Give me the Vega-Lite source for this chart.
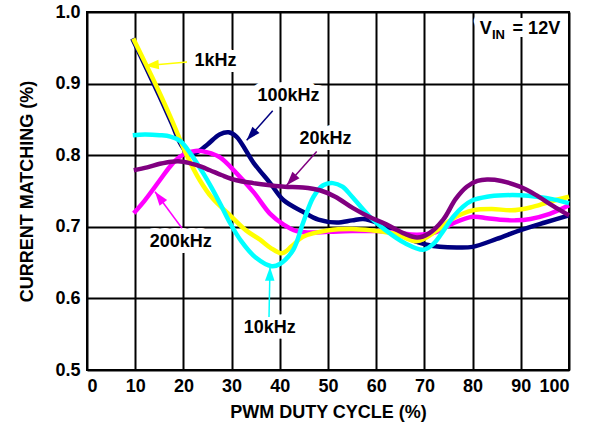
{
  "$schema": "https://vega.github.io/schema/vega-lite/v6.json",
  "width": 482,
  "height": 358,
  "autosize": {"type": "none"},
  "padding": {"left": 87, "top": 12, "right": 33, "bottom": 56},
  "background": "white",
  "config": {
    "font": "Liberation Sans",
    "view": {"stroke": "black", "strokeWidth": 2},
    "line": {"strokeWidth": 4.5, "interpolate": "catmull-rom", "strokeCap": "butt"},
    "axis": {
      "labelFont": "Liberation Sans",
      "labelFontWeight": "bold",
      "labelFontSize": 18,
      "labelColor": "black",
      "titleFont": "Liberation Sans",
      "titleFontWeight": "bold",
      "titleFontSize": 18,
      "titleColor": "black",
      "grid": true,
      "gridColor": "black",
      "gridWidth": 2,
      "gridOpacity": 1,
      "domain": false,
      "ticks": false
    }
  },
  "datasets": {
    "curves": [
      {"series": "100kHz", "x": 9.4, "y": 0.963},
      {"series": "100kHz", "x": 12, "y": 0.926},
      {"series": "100kHz", "x": 15, "y": 0.883},
      {"series": "100kHz", "x": 17.6, "y": 0.844},
      {"series": "100kHz", "x": 19.5, "y": 0.815},
      {"series": "100kHz", "x": 21.2, "y": 0.801},
      {"series": "100kHz", "x": 22.8, "y": 0.804},
      {"series": "100kHz", "x": 25, "y": 0.815},
      {"series": "100kHz", "x": 27.5, "y": 0.829},
      {"series": "100kHz", "x": 29.4, "y": 0.832},
      {"series": "100kHz", "x": 31, "y": 0.826},
      {"series": "100kHz", "x": 34.6, "y": 0.789},
      {"series": "100kHz", "x": 38, "y": 0.761},
      {"series": "100kHz", "x": 40.8, "y": 0.737},
      {"series": "100kHz", "x": 44.8, "y": 0.721},
      {"series": "100kHz", "x": 48, "y": 0.71},
      {"series": "100kHz", "x": 51.8, "y": 0.706},
      {"series": "100kHz", "x": 55, "y": 0.709},
      {"series": "100kHz", "x": 57.3, "y": 0.711},
      {"series": "100kHz", "x": 60, "y": 0.706},
      {"series": "100kHz", "x": 64.3, "y": 0.691},
      {"series": "100kHz", "x": 68, "y": 0.68},
      {"series": "100kHz", "x": 70.5, "y": 0.675},
      {"series": "100kHz", "x": 73.2, "y": 0.672},
      {"series": "100kHz", "x": 77, "y": 0.671},
      {"series": "100kHz", "x": 80, "y": 0.672},
      {"series": "100kHz", "x": 85, "y": 0.683},
      {"series": "100kHz", "x": 89.8, "y": 0.695},
      {"series": "100kHz", "x": 95, "y": 0.706},
      {"series": "100kHz", "x": 100, "y": 0.716},

      {"series": "200kHz", "x": 9.7, "y": 0.719},
      {"series": "200kHz", "x": 12, "y": 0.737},
      {"series": "200kHz", "x": 15.1, "y": 0.765},
      {"series": "200kHz", "x": 17.2, "y": 0.784},
      {"series": "200kHz", "x": 19.3, "y": 0.798},
      {"series": "200kHz", "x": 22.5, "y": 0.806},
      {"series": "200kHz", "x": 25, "y": 0.804},
      {"series": "200kHz", "x": 27.6, "y": 0.797},
      {"series": "200kHz", "x": 31, "y": 0.775},
      {"series": "200kHz", "x": 34.6, "y": 0.748},
      {"series": "200kHz", "x": 38, "y": 0.718},
      {"series": "200kHz", "x": 40.8, "y": 0.703},
      {"series": "200kHz", "x": 43.5, "y": 0.694},
      {"series": "200kHz", "x": 46, "y": 0.692},
      {"series": "200kHz", "x": 50, "y": 0.693},
      {"series": "200kHz", "x": 55, "y": 0.694},
      {"series": "200kHz", "x": 60.2, "y": 0.694},
      {"series": "200kHz", "x": 64, "y": 0.692},
      {"series": "200kHz", "x": 68.5, "y": 0.689},
      {"series": "200kHz", "x": 72.6, "y": 0.693},
      {"series": "200kHz", "x": 76, "y": 0.705},
      {"series": "200kHz", "x": 80, "y": 0.714},
      {"series": "200kHz", "x": 83, "y": 0.712},
      {"series": "200kHz", "x": 85.7, "y": 0.71},
      {"series": "200kHz", "x": 89, "y": 0.709},
      {"series": "200kHz", "x": 92, "y": 0.711},
      {"series": "200kHz", "x": 96, "y": 0.718},
      {"series": "200kHz", "x": 100, "y": 0.73},

      {"series": "1kHz", "x": 9.6, "y": 0.963},
      {"series": "1kHz", "x": 12, "y": 0.93},
      {"series": "1kHz", "x": 15, "y": 0.888},
      {"series": "1kHz", "x": 17.6, "y": 0.849},
      {"series": "1kHz", "x": 20.7, "y": 0.8},
      {"series": "1kHz", "x": 23.4, "y": 0.765},
      {"series": "1kHz", "x": 26, "y": 0.74},
      {"series": "1kHz", "x": 29.7, "y": 0.716},
      {"series": "1kHz", "x": 33, "y": 0.695},
      {"series": "1kHz", "x": 35.9, "y": 0.682},
      {"series": "1kHz", "x": 38, "y": 0.671},
      {"series": "1kHz", "x": 40.4, "y": 0.663},
      {"series": "1kHz", "x": 42.5, "y": 0.673},
      {"series": "1kHz", "x": 44.8, "y": 0.686},
      {"series": "1kHz", "x": 50, "y": 0.695},
      {"series": "1kHz", "x": 55, "y": 0.697},
      {"series": "1kHz", "x": 59, "y": 0.695},
      {"series": "1kHz", "x": 64, "y": 0.69},
      {"series": "1kHz", "x": 68.5, "y": 0.68},
      {"series": "1kHz", "x": 72.6, "y": 0.695},
      {"series": "1kHz", "x": 76, "y": 0.712},
      {"series": "1kHz", "x": 80, "y": 0.723},
      {"series": "1kHz", "x": 84, "y": 0.725},
      {"series": "1kHz", "x": 88, "y": 0.723},
      {"series": "1kHz", "x": 92, "y": 0.727},
      {"series": "1kHz", "x": 96, "y": 0.735},
      {"series": "1kHz", "x": 100, "y": 0.742},

      {"series": "10kHz", "x": 9.5, "y": 0.828},
      {"series": "10kHz", "x": 12, "y": 0.829},
      {"series": "10kHz", "x": 15.1, "y": 0.828},
      {"series": "10kHz", "x": 17.3, "y": 0.826},
      {"series": "10kHz", "x": 19.3, "y": 0.82},
      {"series": "10kHz", "x": 21.4, "y": 0.803},
      {"series": "10kHz", "x": 24.1, "y": 0.775},
      {"series": "10kHz", "x": 25.9, "y": 0.754},
      {"series": "10kHz", "x": 27.8, "y": 0.73},
      {"series": "10kHz", "x": 29.7, "y": 0.705},
      {"series": "10kHz", "x": 32, "y": 0.68},
      {"series": "10kHz", "x": 35, "y": 0.657},
      {"series": "10kHz", "x": 38.3, "y": 0.645},
      {"series": "10kHz", "x": 40, "y": 0.648},
      {"series": "10kHz", "x": 42.8, "y": 0.668},
      {"series": "10kHz", "x": 44.8, "y": 0.705},
      {"series": "10kHz", "x": 47, "y": 0.742},
      {"series": "10kHz", "x": 49, "y": 0.758},
      {"series": "10kHz", "x": 51, "y": 0.761},
      {"series": "10kHz", "x": 53, "y": 0.756},
      {"series": "10kHz", "x": 55, "y": 0.742},
      {"series": "10kHz", "x": 58.7, "y": 0.714},
      {"series": "10kHz", "x": 62, "y": 0.695},
      {"series": "10kHz", "x": 66, "y": 0.677},
      {"series": "10kHz", "x": 69.8, "y": 0.668},
      {"series": "10kHz", "x": 72, "y": 0.677},
      {"series": "10kHz", "x": 74, "y": 0.695},
      {"series": "10kHz", "x": 76, "y": 0.714},
      {"series": "10kHz", "x": 78, "y": 0.728},
      {"series": "10kHz", "x": 80, "y": 0.737},
      {"series": "10kHz", "x": 83, "y": 0.742},
      {"series": "10kHz", "x": 86.4, "y": 0.744},
      {"series": "10kHz", "x": 90, "y": 0.744},
      {"series": "10kHz", "x": 93.3, "y": 0.742},
      {"series": "10kHz", "x": 97, "y": 0.738},
      {"series": "10kHz", "x": 100, "y": 0.733},

      {"series": "20kHz", "x": 9.7, "y": 0.779},
      {"series": "20kHz", "x": 12.5, "y": 0.783},
      {"series": "20kHz", "x": 15.1, "y": 0.788},
      {"series": "20kHz", "x": 17.5, "y": 0.791},
      {"series": "20kHz", "x": 20, "y": 0.791},
      {"series": "20kHz", "x": 22.8, "y": 0.786},
      {"series": "20kHz", "x": 25.5, "y": 0.779},
      {"series": "20kHz", "x": 28, "y": 0.772},
      {"series": "20kHz", "x": 31, "y": 0.765},
      {"series": "20kHz", "x": 34.5, "y": 0.761},
      {"series": "20kHz", "x": 38, "y": 0.758},
      {"series": "20kHz", "x": 41, "y": 0.756},
      {"series": "20kHz", "x": 44.8, "y": 0.755},
      {"series": "20kHz", "x": 48.3, "y": 0.751},
      {"series": "20kHz", "x": 51.5, "y": 0.742},
      {"series": "20kHz", "x": 55.2, "y": 0.726},
      {"series": "20kHz", "x": 58.5, "y": 0.714},
      {"series": "20kHz", "x": 62.2, "y": 0.703},
      {"series": "20kHz", "x": 66, "y": 0.69},
      {"series": "20kHz", "x": 68.5, "y": 0.685},
      {"series": "20kHz", "x": 71, "y": 0.691},
      {"series": "20kHz", "x": 73.9, "y": 0.71},
      {"series": "20kHz", "x": 76.5, "y": 0.739},
      {"series": "20kHz", "x": 78.8, "y": 0.756},
      {"series": "20kHz", "x": 81, "y": 0.764},
      {"series": "20kHz", "x": 83, "y": 0.766},
      {"series": "20kHz", "x": 86, "y": 0.764},
      {"series": "20kHz", "x": 89.8, "y": 0.756},
      {"series": "20kHz", "x": 93, "y": 0.745},
      {"series": "20kHz", "x": 96.5, "y": 0.73},
      {"series": "20kHz", "x": 100, "y": 0.716}
    ],
    "labels": [
      {"text": "1kHz", "x": 26.66, "y": 0.9316},
      {"text": "100kHz", "x": 41.8, "y": 0.882},
      {"text": "20kHz", "x": 49.48, "y": 0.823},
      {"text": "200kHz", "x": 19.46, "y": 0.679},
      {"text": "10kHz", "x": 37.9, "y": 0.558}
    ],
    "vin": [
      {"text": "V", "x": 81.5, "y": 0.9758},
      {"text": "IN", "x": 84.0, "y": 0.968},
      {"text": "= 12V", "x": 88.3, "y": 0.9758}
    ],
    "arrows": [
      {"series": "1kHz", "x": 20.75, "y": 0.93, "x2": 12.03, "y2": 0.925, "angle": 265},
      {"series": "100kHz", "x": 38.53, "y": 0.862, "x2": 33.13, "y2": 0.821, "angle": 222},
      {"series": "20kHz", "x": 47.66, "y": 0.805, "x2": 41.43, "y2": 0.758, "angle": 222},
      {"series": "200kHz", "x": 19.71, "y": 0.698, "x2": 14.11, "y2": 0.749, "angle": 323},
      {"series": "10kHz", "x": 37.76, "y": 0.574, "x2": 37.97, "y2": 0.644, "angle": 1}
    ]
  },
  "layer": [
    {
      "data": {"name": "curves"},
      "transform": [{"filter": "datum.series == '100kHz'"}],
      "mark": {"type": "line"},
      "encoding": {
        "x": {"field": "x", "type": "quantitative", "title": "PWM DUTY CYCLE (%)",
              "scale": {"domain": [0, 100], "nice": false},
              "axis": {"values": [0, 10, 20, 30, 40, 50, 60, 70, 80, 90, 100], "labelPadding": 7, "titlePadding": 8}},
        "y": {"field": "y", "type": "quantitative", "title": "CURRENT MATCHING (%)",
              "scale": {"domain": [0.5, 1.0], "nice": false, "zero": false},
              "axis": {"values": [0.5, 0.6, 0.7, 0.8, 0.9, 1.0], "format": ".1f", "labelPadding": 7, "titlePadding": 18}},
        "color": {"field": "series", "type": "nominal", "legend": null,
                  "scale": {"domain": ["100kHz", "200kHz", "1kHz", "10kHz", "20kHz"],
                            "range": ["#000080", "#FF00FF", "#FFFF00", "#00FFFF", "#800080"]}}
      }
    },
    {
      "data": {"name": "curves"},
      "transform": [{"filter": "datum.series == '200kHz'"}],
      "mark": {"type": "line"},
      "encoding": {
        "x": {"field": "x", "type": "quantitative", "title": "PWM DUTY CYCLE (%)"},
        "y": {"field": "y", "type": "quantitative", "title": "CURRENT MATCHING (%)"},
        "color": {"field": "series", "type": "nominal", "legend": null}
      }
    },
    {
      "data": {"name": "curves"},
      "transform": [{"filter": "datum.series == '1kHz'"}],
      "mark": {"type": "line"},
      "encoding": {
        "x": {"field": "x", "type": "quantitative", "title": "PWM DUTY CYCLE (%)"},
        "y": {"field": "y", "type": "quantitative", "title": "CURRENT MATCHING (%)"},
        "color": {"field": "series", "type": "nominal", "legend": null}
      }
    },
    {
      "data": {"name": "curves"},
      "transform": [{"filter": "datum.series == '10kHz'"}],
      "mark": {"type": "line"},
      "encoding": {
        "x": {"field": "x", "type": "quantitative", "title": "PWM DUTY CYCLE (%)"},
        "y": {"field": "y", "type": "quantitative", "title": "CURRENT MATCHING (%)"},
        "color": {"field": "series", "type": "nominal", "legend": null}
      }
    },
    {
      "data": {"name": "curves"},
      "transform": [{"filter": "datum.series == '20kHz'"}],
      "mark": {"type": "line"},
      "encoding": {
        "x": {"field": "x", "type": "quantitative", "title": "PWM DUTY CYCLE (%)"},
        "y": {"field": "y", "type": "quantitative", "title": "CURRENT MATCHING (%)"},
        "color": {"field": "series", "type": "nominal", "legend": null}
      }
    },
    {
      "data": {"name": "labels"},
      "mark": {"type": "text", "font": "Liberation Sans", "fontWeight": "bold", "fontSize": 18, "fill": "white", "stroke": "white", "strokeWidth": 12, "strokeJoin": "round", "align": "center", "baseline": "middle"},
      "encoding": {
        "x": {"field": "x", "type": "quantitative", "title": "PWM DUTY CYCLE (%)"},
        "y": {"field": "y", "type": "quantitative", "title": "CURRENT MATCHING (%)"},
        "text": {"field": "text"}
      }
    },
    {
      "data": {"name": "vin"},
      "transform": [{"filter": "datum.text != 'IN'"}],
      "mark": {"type": "text", "font": "Liberation Sans", "fontWeight": "bold", "fontSize": 18, "fill": "white", "stroke": "white", "strokeWidth": 12, "strokeJoin": "round", "align": "left", "baseline": "middle"},
      "encoding": {
        "x": {"field": "x", "type": "quantitative", "title": "PWM DUTY CYCLE (%)"},
        "y": {"field": "y", "type": "quantitative", "title": "CURRENT MATCHING (%)"},
        "text": {"field": "text"}
      }
    },
    {
      "data": {"name": "vin"},
      "transform": [{"filter": "datum.text == 'IN'"}],
      "mark": {"type": "text", "font": "Liberation Sans", "fontWeight": "bold", "fontSize": 13, "fill": "white", "stroke": "white", "strokeWidth": 10, "strokeJoin": "round", "align": "left", "baseline": "middle"},
      "encoding": {
        "x": {"field": "x", "type": "quantitative", "title": "PWM DUTY CYCLE (%)"},
        "y": {"field": "y", "type": "quantitative", "title": "CURRENT MATCHING (%)"},
        "text": {"field": "text"}
      }
    },
    {
      "data": {"name": "labels"},
      "mark": {"type": "text", "font": "Liberation Sans", "fontWeight": "bold", "fontSize": 18, "fill": "black", "align": "center", "baseline": "middle"},
      "encoding": {
        "x": {"field": "x", "type": "quantitative", "title": "PWM DUTY CYCLE (%)"},
        "y": {"field": "y", "type": "quantitative", "title": "CURRENT MATCHING (%)"},
        "text": {"field": "text"}
      }
    },
    {
      "data": {"name": "vin"},
      "transform": [{"filter": "datum.text != 'IN'"}],
      "mark": {"type": "text", "font": "Liberation Sans", "fontWeight": "bold", "fontSize": 18, "fill": "black", "align": "left", "baseline": "middle"},
      "encoding": {
        "x": {"field": "x", "type": "quantitative", "title": "PWM DUTY CYCLE (%)"},
        "y": {"field": "y", "type": "quantitative", "title": "CURRENT MATCHING (%)"},
        "text": {"field": "text"}
      }
    },
    {
      "data": {"name": "vin"},
      "transform": [{"filter": "datum.text == 'IN'"}],
      "mark": {"type": "text", "font": "Liberation Sans", "fontWeight": "bold", "fontSize": 13, "fill": "black", "align": "left", "baseline": "middle"},
      "encoding": {
        "x": {"field": "x", "type": "quantitative", "title": "PWM DUTY CYCLE (%)"},
        "y": {"field": "y", "type": "quantitative", "title": "CURRENT MATCHING (%)"},
        "text": {"field": "text"}
      }
    },
    {
      "data": {"name": "arrows"},
      "mark": {"type": "rule", "strokeWidth": 1.5},
      "encoding": {
        "x": {"field": "x", "type": "quantitative", "title": "PWM DUTY CYCLE (%)"},
        "y": {"field": "y", "type": "quantitative", "title": "CURRENT MATCHING (%)"},
        "x2": {"field": "x2"},
        "y2": {"field": "y2"},
        "color": {"field": "series", "type": "nominal", "legend": null}
      }
    },
    {
      "data": {"name": "arrows"},
      "mark": {"type": "point", "shape": "M0,0L-0.55,1.6L0.55,1.6Z", "filled": true, "size": 300, "opacity": 1, "strokeWidth": 0},
      "encoding": {
        "x": {"field": "x2", "type": "quantitative", "title": "PWM DUTY CYCLE (%)"},
        "y": {"field": "y2", "type": "quantitative", "title": "CURRENT MATCHING (%)"},
        "angle": {"field": "angle", "type": "quantitative", "scale": null},
        "color": {"field": "series", "type": "nominal", "legend": null}
      }
    }
  ]
}
